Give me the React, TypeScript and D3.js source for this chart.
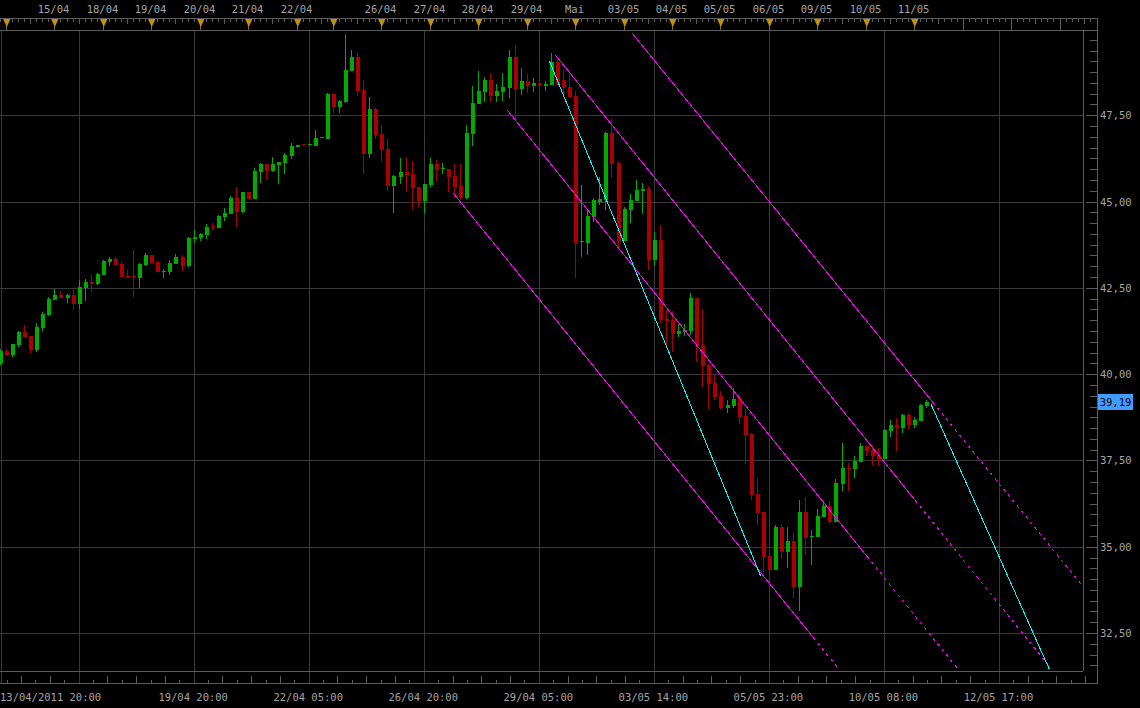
import React from 'react';
import * as d3 from 'd3';

// Canvas
const W = 1140;
const H = 708;
const plot = { left: 0, right: 1083, top: 30, bottom: 671 };
const axisX = 1097;
const rulerTop = 18;
const rulerBottom = 683;

const GREEN = '#00aa00';
const RED = '#aa0000';
const GRID = '#3a3a3a';
const FRAME = '#5c5c5c';
const TEXT = '#a4a4a4';
const FONT = '"DejaVu Sans Mono", monospace';

// 3-hour candles, bar 0 = 13/04/2011 20:00, bar 153 = 11/05 05:00
const opens = [
  40.31, 40.67, 40.55, 40.84, 41.22, 41.10, 40.70, 41.34, 41.71, 42.15,
  42.29, 42.21, 42.29, 42.03, 42.50, 42.67, 42.61, 42.87, 43.25, 43.34,
  43.19, 42.84, 42.84, 42.79, 43.16, 43.45, 43.25, 42.98, 42.96, 43.19,
  43.39, 43.13, 43.92, 43.95, 44.03, 44.28, 44.23, 44.55, 44.64, 45.10,
  44.70, 45.28, 45.07, 45.86, 46.09, 45.88, 46.06, 46.12, 46.32, 46.59,
  46.66, 46.65, 46.62, 46.85, 46.81, 48.12, 47.75, 47.89, 48.79, 49.18,
  48.23, 46.39, 47.68, 46.96, 46.52, 45.46, 45.71, 45.86, 45.80, 45.42,
  45.01, 45.48, 46.09, 45.96, 45.94, 45.74, 45.46, 45.11, 46.97, 47.84,
  48.17, 48.52, 48.07, 48.18, 48.30, 49.19, 48.26, 48.49, 48.35, 48.44,
  48.36, 48.38, 49.04, 48.52, 48.32, 48.06, 43.84, 43.80, 44.55, 44.99,
  45.05, 46.99, 46.12, 43.86, 44.76, 45.02, 45.31, 45.36, 43.31, 43.89,
  41.60, 41.57, 41.16, 41.22, 41.25, 42.21, 40.84, 40.27, 39.74, 39.37,
  39.02, 39.08, 39.31, 38.79, 38.27, 36.53, 36.01, 34.73, 34.33, 35.57,
  34.85, 35.17, 33.83, 36.01, 35.28, 35.29, 35.87, 36.18, 35.72, 36.83,
  37.29, 37.26, 37.46, 37.92, 37.80, 37.66, 37.54, 38.35, 38.53, 38.44,
  38.82, 38.53, 38.64, 39.08,
];
const highs = [
  40.73, 40.73, 40.87, 41.25, 41.42, 41.11, 41.48, 41.80, 42.24, 42.47,
  42.41, 42.32, 42.47, 42.73, 42.76, 42.87, 42.93, 43.31, 43.39, 43.39,
  43.25, 43.02, 43.60, 43.22, 43.51, 43.46, 43.28, 43.05, 43.31, 43.48,
  43.45, 43.97, 44.18, 44.10, 44.35, 44.38, 44.60, 44.81, 45.16, 45.42,
  45.29, 45.29, 45.97, 46.12, 46.10, 46.29, 46.16, 46.41, 46.70, 46.65,
  46.67, 46.67, 47.07, 46.87, 48.15, 48.13, 47.95, 49.85, 49.39, 49.30,
  48.52, 48.03, 47.71, 47.22, 46.81, 45.77, 46.27, 46.30, 46.18, 45.43,
  45.52, 46.26, 46.20, 46.13, 45.95, 46.09, 46.09, 47.22, 48.35, 48.78,
  48.60, 48.73, 48.41, 48.73, 49.40, 49.54, 48.87, 48.69, 48.59, 48.45,
  48.49, 49.30, 49.19, 48.81, 48.71, 48.20, 45.48, 44.76, 45.10, 45.71,
  47.02, 47.39, 46.18, 44.85, 45.22, 45.63, 45.54, 45.45, 44.12, 44.32,
  41.89, 41.83, 41.45, 41.45, 42.35, 42.22, 41.89, 40.28, 39.98, 39.51,
  39.25, 39.60, 39.42, 38.99, 38.30, 36.99, 36.02, 35.08, 35.63, 35.66,
  35.57, 35.40, 36.35, 36.44, 35.48, 36.09, 36.32, 36.33, 36.96, 38.00,
  37.43, 37.63, 38.00, 37.93, 37.95, 37.86, 38.41, 38.67, 38.73, 38.85,
  38.87, 38.76, 39.14, 39.25,
];
const lows = [
  40.26, 40.53, 40.50, 40.79, 41.07, 40.61, 40.64, 41.25, 41.69, 42.14,
  42.20, 42.06, 41.86, 41.89, 42.12, 42.38, 42.58, 42.86, 43.13, 43.15,
  42.80, 42.78, 42.23, 42.50, 43.13, 43.21, 42.95, 42.79, 42.87, 43.18,
  42.99, 43.10, 43.79, 43.87, 43.91, 44.18, 44.22, 44.44, 44.63, 44.26,
  44.67, 45.06, 45.06, 45.54, 45.62, 45.87, 45.51, 45.80, 46.23, 46.58,
  46.64, 46.64, 46.61, 46.84, 46.80, 47.57, 47.57, 47.85, 48.78, 48.07,
  45.80, 46.27, 46.82, 46.15, 45.31, 44.68, 45.52, 45.28, 44.78, 44.85,
  44.68, 45.43, 45.60, 45.81, 45.28, 45.14, 45.05, 45.07, 46.62, 47.83,
  47.89, 47.88, 47.89, 47.91, 48.01, 47.40, 48.09, 48.14, 48.17, 48.23,
  48.21, 48.37, 48.37, 48.08, 48.02, 42.79, 43.40, 43.45, 44.42, 44.90,
  44.76, 45.69, 43.62, 43.85, 44.39, 45.01, 44.64, 43.02, 43.13, 41.48,
  40.80, 40.64, 41.07, 41.10, 41.13, 40.35, 39.63, 38.99, 39.25, 38.99,
  38.87, 39.02, 38.56, 37.40, 36.35, 35.63, 34.27, 34.32, 34.32, 34.64,
  34.38, 33.51, 33.14, 34.77, 34.48, 35.28, 35.86, 35.67, 35.71, 36.62,
  36.62, 37.00, 37.45, 37.63, 37.37, 37.35, 37.53, 38.18, 37.77, 38.30,
  38.41, 38.44, 38.63, 39.02,
];
const closes = [
  40.67, 40.55, 40.87, 41.22, 41.08, 40.70, 41.37, 41.74, 42.18, 42.29,
  42.21, 42.29, 42.03, 42.52, 42.67, 42.62, 42.90, 43.28, 43.34, 43.16,
  42.81, 42.79, 42.83, 43.19, 43.45, 43.22, 42.96, 42.99, 43.22, 43.39,
  43.13, 43.95, 43.97, 44.07, 44.27, 44.27, 44.58, 44.67, 45.10, 44.70,
  45.28, 45.07, 45.88, 46.09, 45.88, 46.09, 46.15, 46.35, 46.61, 46.64,
  46.65, 46.66, 46.84, 46.86, 48.12, 47.74, 47.91, 48.81, 49.19, 48.20,
  46.39, 47.68, 46.94, 46.50, 45.46, 45.75, 45.86, 45.77, 45.40, 45.01,
  45.51, 46.09, 45.92, 45.97, 45.72, 45.42, 45.11, 46.99, 47.86, 48.20,
  48.52, 48.07, 48.20, 48.32, 49.19, 48.26, 48.49, 48.35, 48.44, 48.35,
  48.41, 49.04, 48.38, 48.28, 48.03, 43.80, 43.86, 44.59, 45.05, 45.07,
  46.99, 46.10, 43.86, 44.78, 45.05, 45.34, 45.36, 43.31, 43.89, 41.57,
  41.54, 41.16, 41.25, 41.28, 42.21, 40.81, 40.24, 39.71, 39.34, 39.02,
  39.11, 39.28, 38.76, 38.24, 36.50, 35.98, 34.70, 34.33, 35.57, 34.85,
  35.17, 33.83, 36.01, 35.26, 35.30, 35.89, 36.18, 35.72, 36.85, 37.28,
  37.27, 37.48, 37.92, 37.77, 37.63, 37.54, 38.38, 38.53, 38.44, 38.82,
  38.53, 38.67, 39.11, 39.19,
];

// top ruler: first bar of each trading day
const dayStarts = [1, 9, 17, 25, 33, 41, 49, 55, 63, 71, 79, 87, 95, 103, 111, 119, 127, 135, 143, 151];
const dayLabels = ['', '15/04', '18/04', '19/04', '20/04', '21/04', '22/04', '', '26/04', '27/04', '28/04', '29/04', 'Mai', '03/05', '04/05', '05/05', '06/05', '09/05', '10/05', '11/05'];
const futureDayStarts = [159, 167, 175];

// bottom axis: vertical grid every 19 bars
const gridBars = [13, 32, 51, 70, 89, 108, 127, 146, 165];
const gridLabels = ['', '19/04 20:00', '22/04 05:00', '26/04 20:00', '29/04 05:00', '03/05 14:00', '05/05 23:00', '10/05 08:00', '12/05 17:00'];
const firstBarLabel = '13/04/2011 20:00';

const priceTicks = [32.5, 35, 37.5, 40, 42.5, 45, 47.5];
const lastPrice = 39.19;

// drawn trend lines in [bar, price]: start, end of solid part, end of dotted extension
const channelLines = [
  { start: [104.23, 49.88], solidEnd: [153.93, 39.18], end: [178.38, 33.92] },
  { start: [91.56, 49.25], solidEnd: [150.97, 36.35], end: [173.26, 31.51] },
  { start: [83.63, 47.65], solidEnd: [143.04, 34.72], end: [157.95, 31.48] },
  { start: [74.67, 45.25], solidEnd: [134.12, 32.38], end: [138.25, 31.49] },
];
const cyanLines = [
  [[90.57, 49.08], [125.48, 34.15]],
  [[153.61, 39.13], [173.15, 31.45]],
];

const x = d3.scaleLinear().domain([0, 178]).range([0.9, 0.9 + 6.055 * 178]);
const y = d3.scaleLinear().domain([31.4, 49.97]).range([plot.bottom, plot.top]);

const line = d3
  .line<number[]>()
  .x((d) => x(d[0]))
  .y((d) => y(d[1]));

const fmt = (v: number) => v.toFixed(2).replace('.', ',');

function dayOffset(i: number) {
  const starts = [...dayStarts, ...futureDayStarts];
  let s = -7;
  starts.forEach((b) => {
    if (b <= i) s = b;
  });
  return i - s;
}

export default function App() {
  const rulerBars = d3.range(0, 181).filter((i) => x(i) < axisX);
  const minorPrices = d3.range(31.5625, 50, 0.3125).filter((p) => y(p) > plot.top && y(p) < plot.bottom);
  const bottomTicks = d3
    .range(-6, 80)
    .map((m) => ({ m, b: 13 + (19 * m) / 8 }))
    .filter((t) => x(t.b) > 1 && x(t.b) < axisX && ((t.m % 8) + 8) % 8 !== 0);

  return (
    <div style={{ position: 'fixed', left: 0, top: 0, width: W, height: H, background: '#000' }}>
      <svg width={W} height={H} style={{ display: 'block' }} shapeRendering="crispEdges">
        <defs>
          <clipPath id="plotClip">
            <rect x={plot.left} y={plot.top + 1} width={plot.right - plot.left} height={plot.bottom - plot.top - 1} />
          </clipPath>
        </defs>
        <rect width={W} height={H} fill="#000" />

        {/* grid */}
        {priceTicks.map((p) => (
          <line key={p} x1={plot.left} x2={plot.right} y1={Math.round(y(p)) + 0.5} y2={Math.round(y(p)) + 0.5} stroke={GRID} />
        ))}
        {gridBars.map((b) => (
          <line key={b} x1={Math.round(x(b)) - 0.5} x2={Math.round(x(b)) - 0.5} y1={plot.top + 1} y2={rulerBottom} stroke={GRID} />
        ))}
        <line x1={1.5} x2={1.5} y1={plot.top + 1} y2={rulerBottom} stroke={GRID} />

        {/* frame and rulers */}
        <line x1={0} x2={axisX} y1={rulerTop + 0.5} y2={rulerTop + 0.5} stroke={FRAME} />
        <line x1={0} x2={axisX} y1={plot.top + 0.5} y2={plot.top + 0.5} stroke={FRAME} />
        <line x1={0} x2={plot.right} y1={plot.bottom + 0.5} y2={plot.bottom + 0.5} stroke={FRAME} />
        <line x1={plot.right + 0.5} x2={plot.right + 0.5} y1={plot.top} y2={plot.bottom} stroke={FRAME} />
        <line x1={0} x2={axisX} y1={rulerBottom + 0.5} y2={rulerBottom + 0.5} stroke={FRAME} />
        <line x1={axisX + 0.5} x2={axisX + 0.5} y1={rulerTop} y2={rulerBottom + 1} stroke={FRAME} />

        {/* top ruler ticks */}
        {rulerBars.map((i) => {
          const d = dayOffset(i);
          if (d === 0) return null;
          const len = d === 4 ? 5 : 3;
          return <line key={i} x1={Math.round(x(i)) - 0.5} x2={Math.round(x(i)) - 0.5} y1={rulerTop + 1} y2={rulerTop + 1 + len} stroke={FRAME} />;
        })}
        {futureDayStarts.map((b) => (
          <line key={b} x1={Math.round(x(b)) - 0.5} x2={Math.round(x(b)) - 0.5} y1={rulerTop} y2={plot.top} stroke={FRAME} />
        ))}
        {dayStarts.map((b, k) => {
          const cx = Math.round(x(b)) - 0.5;
          return (
            <g key={b}>
              <line x1={cx} x2={cx} y1={rulerTop + 1} y2={plot.top} stroke="#8a6a10" />
              <path d={`M${cx - 3.5},${rulerTop + 1} L${cx + 4},${rulerTop + 1} L${cx + 0.25},${rulerTop + 9} Z`} fill="#c0900f" shapeRendering="auto" />
              {dayLabels[k] && (
                <text x={cx - 1} y={13} fill={TEXT} fontFamily={FONT} fontSize={10.5} textAnchor="middle">
                  {dayLabels[k]}
                </text>
              )}
            </g>
          );
        })}

        {/* right axis */}
        {minorPrices.map((p) => (
          <line key={p} x1={axisX - 7} x2={axisX} y1={Math.round(y(p)) + 0.5} y2={Math.round(y(p)) + 0.5} stroke={FRAME} />
        ))}
        {priceTicks.map((p) => (
          <g key={p}>
            <line x1={axisX - 11} x2={axisX} y1={Math.round(y(p)) + 0.5} y2={Math.round(y(p)) + 0.5} stroke={FRAME} />
            <text x={axisX + 3} y={Math.round(y(p)) + 4} fill={TEXT} fontFamily={FONT} fontSize={10.5}>
              {fmt(p)}
            </text>
          </g>
        ))}
        <rect x={axisX + 1} y={Math.round(y(lastPrice)) - 8} width={35} height={16} fill="#3f9dff" />
        <text x={axisX + 18.5} y={Math.round(y(lastPrice)) + 4} fill="#000" fontFamily={FONT} fontSize={10.5} textAnchor="middle">
          {fmt(lastPrice)}
        </text>

        {/* bottom ruler */}
        {bottomTicks.map((t) => (
          <line
            key={t.m}
            x1={Math.round(x(t.b)) - 0.5}
            x2={Math.round(x(t.b)) - 0.5}
            y1={rulerBottom}
            y2={rulerBottom - (((t.m % 2) + 2) % 2 === 1 ? 3 : 7)}
            stroke={FRAME}
          />
        ))}
        <text x={0} y={701} fill={TEXT} fontFamily={FONT} fontSize={10.5}>
          {firstBarLabel}
        </text>
        {gridBars.map((b, k) =>
          gridLabels[k] ? (
            <text key={b} x={x(b) - 1.5} y={701} fill={TEXT} fontFamily={FONT} fontSize={10.5} textAnchor="middle">
              {gridLabels[k]}
            </text>
          ) : null,
        )}

        {/* candles */}
        <g clipPath="url(#plotClip)">
          {opens.map((o, i) => {
            const c = closes[i];
            const color = c >= o ? GREEN : RED;
            const cx = Math.round(x(i));
            const bTop = Math.round(y(Math.max(o, c)));
            const bBot = Math.round(y(Math.min(o, c)));
            const hi = Math.round(y(highs[i]));
            const lo = Math.round(y(lows[i]));
            return (
              <g key={i}>
                <rect x={cx - 1} y={hi} width={1} height={Math.max(1, lo - hi)} fill={color} />
                <rect x={cx - 2} y={bTop} width={4} height={Math.max(1, bBot - bTop)} fill={color} />
              </g>
            );
          })}
        </g>

        {/* trend lines */}
        <g clipPath="url(#plotClip)" fill="none">
          {channelLines.map((l, k) => (
            <g key={k}>
              <path d={line([l.start, l.solidEnd]) ?? ''} stroke="#ff00ff" />
              <path d={line([l.solidEnd, l.end]) ?? ''} stroke="#ff00ff" strokeDasharray="3 4" />
            </g>
          ))}
          {cyanLines.map((l, k) => (
            <path key={k} d={line(l) ?? ''} stroke="#00ffff" />
          ))}
        </g>
      </svg>
    </div>
  );
}
